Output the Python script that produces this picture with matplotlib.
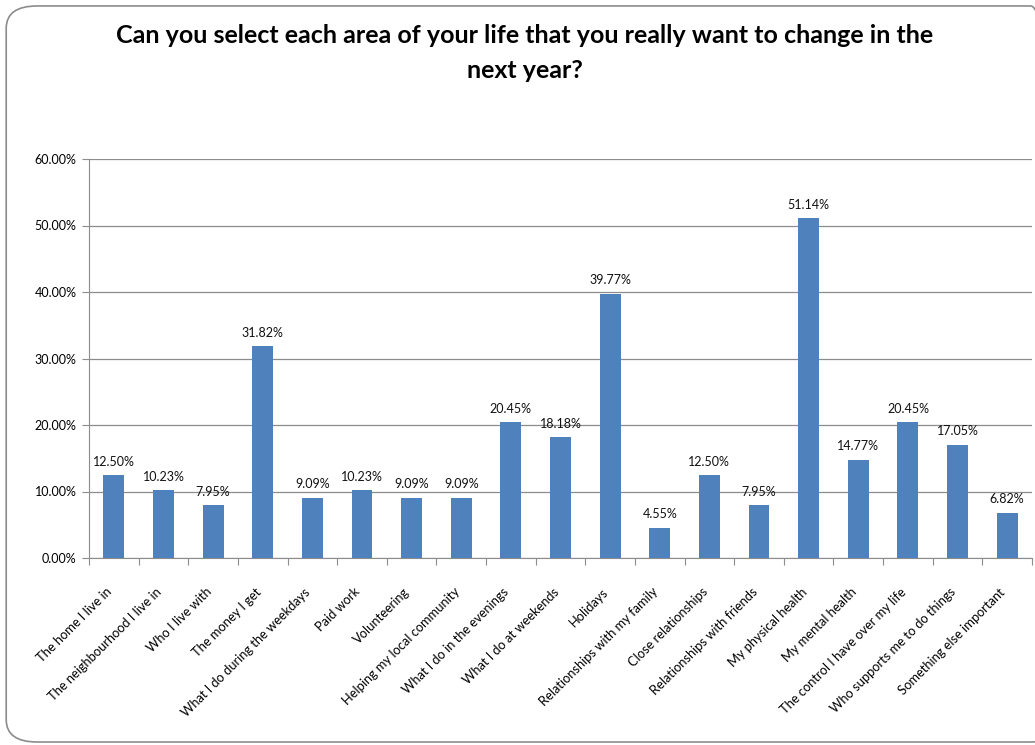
import numpy as np
import matplotlib.pyplot as plt
import matplotlib.transforms as mtransforms
from matplotlib.patches import FancyBboxPatch

areas = [
    'The home I live in', 'The neighbourhood I live in', 'Who I live with',
    'The money I get', 'What I do during the weekdays', 'Paid work',
    'Volunteering', 'Helping my local community', 'What I do in the evenings',
    'What I do at weekends', 'Holidays', 'Relationships with my family',
    'Close relationships', 'Relationships with friends', 'My physical health',
    'My mental health', 'The control I have over my life',
    'Who supports me to do things', 'Something else important',
]
percent = [12.50, 10.23, 7.95, 31.82, 9.09, 10.23, 9.09, 9.09, 20.45,
           18.18, 39.77, 4.55, 12.50, 7.95, 51.14, 14.77, 20.45, 17.05, 6.82]
yticks = [0, 10, 20, 30, 40, 50, 60]

plt.rcParams['font.family'] = ['Lato', 'DejaVu Sans']

fig = plt.figure(figsize=(10.35, 7.45), dpi=100)

# rounded frame around the whole chart (runs off the right edge)
frame = FancyBboxPatch((0.006, 0.004), 1.02, 0.988,
                       boxstyle='round,pad=0,rounding_size=0.03',
                       transform=fig.transFigure, fill=False,
                       edgecolor='#8c8c8c', linewidth=1.2)
fig.patches.append(frame)

fig.text(0.507, 0.952, 'Can you select each area of your life that you really want to change in the',
         ha='center', va='center', fontsize=18, fontweight='bold')
fig.text(0.507, 0.905, 'next year?', ha='center', va='center', fontsize=18, fontweight='bold')

ax = fig.add_axes([89 / 1035, 1 - 558 / 745, (1032 - 89) / 1035, (558 - 159) / 745])
x = np.arange(len(areas))
ax.bar(x, percent, width=0.42, color='#4f81bd', zorder=3)

for xi, v in zip(x, percent):
    ax.text(xi, v + 1.1, f'{v:.2f}%', ha='center', va='bottom', fontsize=9, color='#111111')

ax.set_xlim(-0.5, len(areas) - 0.5)
ax.set_ylim(0, 60)
ax.set_yticks(yticks)
ax.set_yticklabels([f'{t:.2f}%' for t in yticks], fontsize=9)
ax.yaxis.grid(True, color='#8c8c8c', linewidth=0.9, zorder=0)

ax.set_xticks(np.arange(len(areas) + 1) - 0.5)
ax.set_xticklabels([])
ax.set_xticks(x, minor=True)
ax.set_xticklabels(areas, minor=True, rotation=45, ha='right',
                   rotation_mode='anchor', fontsize=9.3)
ax.tick_params(axis='x', which='minor', length=0, pad=20)
ax.tick_params(axis='x', which='major', length=5, color='#8c8c8c')
ax.tick_params(axis='y', length=5, color='#8c8c8c', pad=4)

# nudge the slanted category labels a little to the left
shift = mtransforms.ScaledTranslation(-8 / 100, 0, fig.dpi_scale_trans)
for lbl in ax.get_xticklabels(minor=True):
    lbl.set_transform(lbl.get_transform() + shift)

for side in ['top', 'right']:
    ax.spines[side].set_visible(False)
for side in ['left', 'bottom']:
    ax.spines[side].set_color('#8c8c8c')

fig.savefig('out.png', dpi=100)
